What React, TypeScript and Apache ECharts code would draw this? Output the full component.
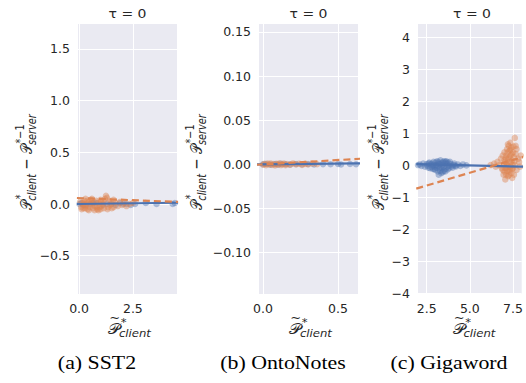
import React, { useEffect, useRef } from 'react';
import * as echarts from 'echarts';

// ---------- data ----------
const panelCaptions = ['(a) SST2', '(b) OntoNotes', '(c) Gigaword'];
const panelTitles = ['τ = 0', 'τ = 0', 'τ = 0'];

const sst2Blue = [[0.02,0.0],[0.1,0.01],[0.2,-0.01],[0.3,-0.01],[0.5,0.0],[0.65,0.01],[0.8,0.01],[1.1,-0.01],[1.3,0.0],[1.5,0.0],[1.7,-0.01],[1.9,0.01],[2.05,0.0],[2.2,0.0],[2.4,-0.01],[2.6,0.0],[3.1,0.01],[3.6,0.0],[4.35,0.0],[4.45,0.01]];
const sst2Orange = [[0.05,0.02],[0.1,-0.03],[0.15,0.01],[0.2,-0.04],[0.25,0.03],[0.3,-0.02],[0.35,0.0],[0.4,-0.05],[0.45,0.02],[0.5,-0.03],[0.55,0.04],[0.6,-0.01],[0.65,-0.04],[0.7,0.02],[0.75,-0.02],[0.8,0.03],[0.85,-0.05],[0.9,0.01],[0.95,-0.03],[1.0,0.04],[1.05,-0.02],[1.1,0.02],[1.15,-0.04],[1.2,0.05],[1.25,0.08],[1.3,0.06],[1.35,-0.03],[1.4,0.03],[1.45,-0.01],[1.5,0.02],[1.6,-0.03],[1.7,0.01],[1.8,-0.02],[1.9,0.02],[2.0,-0.01],[2.1,0.01],[2.2,-0.02],[2.35,0.0],[2.5,0.01],[0.3,0.05],[0.6,0.05],[0.9,-0.06],[0.2,0.0],[1.0,-0.05],[0.45,-0.06],[1.6,0.04],[0.12,-0.05],[0.38,0.03],[0.72,-0.06],[1.12,0.0],[1.32,-0.05],[0.58,0.01],[0.82,-0.03],[1.52,-0.04],[1.02,0.02],[0.28,-0.04]];
const sst2BlueFit = [[-0.1,0.0],[4.6,0.012]];
const sst2OrangeFit = [[-0.1,0.058],[4.6,0.02]];

const ontoBlue = [[0.0,0.0],[0.02,0.0003],[0.05,-0.0004],[0.08,0.0002],[0.1,-0.0003],[0.12,0.0005],[0.15,0.0],[0.18,-0.0002],[0.22,0.0003],[0.26,0.0],[0.3,0.0004],[0.34,-0.0003],[0.4,0.0002],[0.45,0.0],[0.5,0.0003],[0.52,-0.0002],[0.58,0.0004],[0.62,0.0]];
const ontoOrange = [[0.0,-0.0005],[0.01,0.0005],[0.02,-0.001],[0.03,0.0008],[0.04,-0.0003],[0.05,0.001],[0.06,-0.0008],[0.07,0.0003],[0.08,-0.0012],[0.09,0.0006],[0.1,-0.0004],[0.11,0.0012],[0.12,-0.0009],[0.13,0.0002],[0.14,0.0009],[0.15,-0.0011],[0.16,0.0004],[0.18,-0.0006],[0.2,0.001],[0.22,-0.0003],[0.24,0.0007],[0.26,-0.0008],[0.28,0.0005],[0.3,-0.0002],[0.33,0.0006],[0.36,0.0]];
const ontoBlueFit = [[-0.05,0.0],[0.7,0.0012]];
const ontoOrangeFit = [[-0.05,-0.0006],[0.7,0.0068]];

const gigaBlue = [[2.0,0.0],[2.1,0.02],[2.2,-0.03],[2.3,0.05],[2.4,-0.05],[2.5,0.03],[2.6,-0.08],[2.65,0.08],[2.7,-0.1],[2.8,0.05],[2.85,-0.12],[2.9,0.1],[3.0,-0.15],[3.05,0.0],[3.1,0.12],[3.15,-0.2],[3.2,0.05],[3.25,-0.1],[3.3,0.15],[3.35,-0.25],[3.4,0.0],[3.45,0.1],[3.5,-0.18],[3.55,0.05],[3.6,-0.12],[3.65,0.12],[3.7,-0.05],[3.75,0.08],[3.8,-0.1],[3.9,0.03],[4.0,-0.08],[4.1,0.05],[4.2,-0.04],[4.3,0.02],[4.45,-0.03],[4.6,0.02],[4.8,-0.01],[3.0,0.08],[3.2,-0.3],[2.95,-0.05],[3.4,-0.1],[3.6,0.1],[2.55,-0.02],[2.75,0.02],[2.95,-0.12],[3.08,-0.08],[3.18,0.1],[3.28,-0.18],[3.38,0.06],[3.48,-0.05],[3.58,-0.2],[3.68,0.04],[3.78,-0.02],[3.85,0.1],[3.95,-0.04],[2.88,0.0],[3.12,-0.02],[3.32,-0.06],[3.52,0.12],[3.72,-0.14],[2.62,0.05],[2.78,-0.06],[4.05,0.0],[4.15,-0.02],[3.42,-0.22],[3.25,0.02]];
const gigaOrange = [[6.2,0.0],[6.4,0.05],[6.5,-0.05],[6.6,0.1],[6.7,0.0],[6.8,0.2],[6.85,-0.1],[6.9,0.3],[6.95,-0.3],[7.0,0.4],[7.0,-0.2],[7.05,0.1],[7.05,-0.45],[7.1,0.3],[7.1,-0.1],[7.15,0.5],[7.15,0.0],[7.2,-0.35],[7.2,0.2],[7.25,0.6],[7.25,-0.2],[7.3,0.1],[7.3,0.45],[7.35,-0.05],[7.35,0.3],[7.4,0.55],[7.4,-0.25],[7.45,0.15],[7.5,0.4],[7.5,-0.1],[7.55,0.25],[7.6,0.85],[7.6,0.0],[7.65,0.35],[7.7,-0.15],[7.7,0.5],[7.8,0.2],[7.85,0.1],[7.9,-0.05],[7.95,0.3],[7.45,-0.4],[7.35,0.7],[7.0,0.15],[7.2,0.65],[7.1,-0.3],[6.9,-0.15],[7.55,-0.3],[7.65,0.6],[7.12,0.05],[7.22,-0.05],[7.32,-0.15],[7.42,0.35],[7.28,0.25],[7.18,0.4],[7.38,0.1],[7.48,0.0],[7.08,0.22],[6.98,0.02],[7.52,0.58],[7.26,-0.32],[7.36,0.48],[7.16,-0.18],[7.44,-0.12],[7.02,-0.08],[7.58,0.12]];
const gigaBlueFit = [[1.9,0.03],[8.1,-0.05]];
const gigaOrangeFit = [[1.9,-0.736],[8.1,0.256]];

const xRanges = [[-0.05, 4.55], [-0.027, 0.633], [2.0, 8.0]];
const yRanges = [[-0.87, 1.74], [-0.147, 0.159], [-4.03, 4.41]];
const xTicks = [[0, 2.5], [0, 0.5], [2.5, 5.0, 7.5]];
const yTicks = [[-0.5, 0, 0.5, 1.0, 1.5], [-0.1, -0.05, 0, 0.05, 0.1, 0.15], [-4, -3, -2, -1, 0, 1, 2, 3, 4]];
const xDecimals = [1, 1, 1];
const yDecimals = [1, 2, 0];

// ---------- layout ----------
const grids = [
  { left: 78, top: 24, width: 99, height: 270 },
  { left: 259, top: 24, width: 99, height: 270 },
  { left: 418, top: 24, width: 108, height: 270 },
];
const yLabelX = [27, 197, 379];
const captionX = [97, 283, 449];

const BLUE = '#4C72B0';
const ORANGE = '#DD8452';
const TXT = '#262626';
const BG = '#EAEAF2';
const SX = 1.2;

let _ctx: CanvasRenderingContext2D | null = null;
function textW(t: string, size: number, italic: boolean, family: string) {
  if (!_ctx) _ctx = document.createElement('canvas').getContext('2d');
  _ctx!.font = `${italic ? 'italic ' : ''}${size}px ${family}`;
  return _ctx!.measureText(t).width;
}

const SANS = '"DejaVu Sans"';
const CAL = '"DejaVu Sans", "DejaVu Serif", "Noto Sans", serif';

function txt(text: string, x: number, y: number, size: number, italic: boolean, family: string, align = 'left') {
  return {
    type: 'text', x, y, silent: true,
    style: {
      text, fill: TXT, fontSize: size, fontFamily: family, fontStyle: italic ? 'italic' : 'normal', fontWeight: 'normal',
      align, textAlign: align, verticalAlign: 'middle', textVerticalAlign: 'middle',
    },
  };
}

type Seg = { main: string; cal?: boolean; sup?: string; sub?: string; tilde?: boolean };

function buildMath(segs: Seg[], S: number) {
  const s = S * 0.72;
  const children: any[] = [];
  let x = 0;
  for (const g of segs) {
    const fam = g.cal ? CAL : SANS;
    const mw = textW(g.main, S, false, fam);
    children.push(txt(g.main, x, 0, S, false, fam));
    if (g.tilde) children.push(txt('~', x + mw * 0.55, -0.8 * S, S * 0.8, false, SANS, 'center'));
    x += mw;
    let adv = 0;
    if (g.sup) {
      const w = textW(g.sup, s, false, SANS);
      children.push(txt(g.sup, x + 0.5, -0.42 * S, s, false, SANS));
      adv = Math.max(adv, w + 0.5);
    }
    if (g.sub) {
      const w = textW(g.sub, s, true, SANS);
      children.push(txt(g.sub, x - 1, 0.34 * S, s, true, SANS));
      adv = Math.max(adv, w - 1);
    }
    x += adv;
  }
  for (const c of children) c.x -= x / 2;
  return children;
}

const fmt = (d: number) => (v: number) => {
  const s = Math.abs(v).toFixed(d);
  return (v < -1e-9 ? '\u2212' : '') + s;
};

export default function App() {
  const ref = useRef<HTMLDivElement>(null);
  useEffect(() => {
    if (!ref.current) return;
    const chart = echarts.init(ref.current, null, { renderer: 'svg' });

    const xAxis = grids.map((_, i) => ({
      type: 'value', gridIndex: i, min: xRanges[i][0], max: xRanges[i][1],
      axisLine: { show: false },
      axisTick: { show: false, customValues: xTicks[i] },
      axisLabel: { customValues: xTicks[i], formatter: fmt(xDecimals[i]), color: TXT, fontFamily: 'DejaVu Sans', fontSize: 12.5, margin: 8, showMinLabel: true, showMaxLabel: true },
      splitLine: { show: true, lineStyle: { color: '#ffffff', width: 1 } },
    }));
    const yAxis = grids.map((_, i) => ({
      type: 'value', gridIndex: i, min: yRanges[i][0], max: yRanges[i][1],
      axisLine: { show: false },
      axisTick: { show: false, customValues: yTicks[i] },
      axisLabel: { customValues: yTicks[i], formatter: fmt(yDecimals[i]), color: TXT, fontFamily: 'DejaVu Sans', fontSize: 12.5, margin: 8 },
      splitLine: { show: true, lineStyle: { color: '#ffffff', width: 1 } },
    }));

    const panels = [
      { blue: sst2Blue, orange: sst2Orange, bf: sst2BlueFit, of: sst2OrangeFit },
      { blue: ontoBlue, orange: ontoOrange, bf: ontoBlueFit, of: ontoOrangeFit },
      { blue: gigaBlue, orange: gigaOrange, bf: gigaBlueFit, of: gigaOrangeFit },
    ];
    const series: any[] = [];
    panels.forEach((p, i) => {
      series.push({ type: 'scatter', xAxisIndex: i, yAxisIndex: i, data: p.blue, symbolSize: 6.5, itemStyle: { color: BLUE, opacity: 0.42 }, silent: true });
      series.push({ type: 'scatter', xAxisIndex: i, yAxisIndex: i, data: p.orange, symbolSize: 6.5, itemStyle: { color: ORANGE, opacity: 0.45 }, silent: true });
      series.push({ type: 'line', xAxisIndex: i, yAxisIndex: i, data: p.bf, showSymbol: false, clip: true, lineStyle: { color: BLUE, width: 2.2 }, silent: true });
      series.push({ type: 'line', xAxisIndex: i, yAxisIndex: i, data: p.of, showSymbol: false, clip: true, lineStyle: { color: ORANGE, width: 2.2, type: [7, 4] }, silent: true });
    });

    const graphic: any[] = [];
    grids.forEach((g, i) => {
      const cx = g.left + g.width / 2;
      graphic.push({ ...txt(panelTitles[i], cx, 14, 12.5, false, SANS, 'center'), scaleX: 1.12 });
      graphic.push({
        type: 'group', x: cx + 2, y: 329, scaleX: SX,
        children: buildMath([{ main: '𝒫', cal: true, tilde: true, sup: '*', sub: 'client' }], 13.5),
      });
      graphic.push({
        type: 'group', x: yLabelX[i], y: g.top + g.height / 2 + 3, rotation: Math.PI / 2, scaleY: SX,
        children: buildMath([
          { main: '𝒫', cal: true, sup: '*', sub: 'client' },
          { main: ' \u2212 ' },
          { main: '𝒫', cal: true, sup: '*\u22121', sub: 'server' },
        ], 13.5),
      });
      graphic.push({
        type: 'text', x: captionX[i], y: 363, scaleX: 1.15, silent: true,
        style: { text: panelCaptions[i], fill: '#000', fontSize: 19, fontWeight: 'normal', fontFamily: '"Liberation Serif", "Times New Roman", serif', align: 'center', textAlign: 'center', verticalAlign: 'middle', textVerticalAlign: 'middle' },
      });
    });

    chart.setOption({
      animation: false,
      backgroundColor: '#ffffff',
      grid: grids.map(g => ({ ...g, show: true, backgroundColor: BG, borderWidth: 0, containLabel: false })),
      xAxis, yAxis, series, graphic,
    });
    return () => chart.dispose();
  }, []);
  return <div ref={ref} style={{ position: 'fixed', left: 0, top: 0, width: 526, height: 383 }} />;
}
